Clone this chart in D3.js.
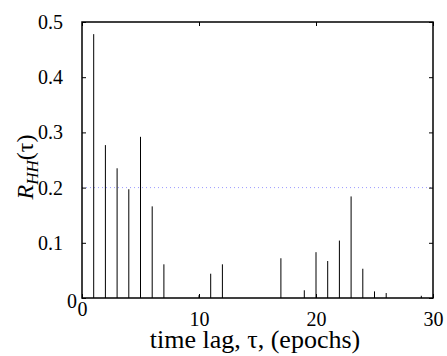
<!DOCTYPE html>
<html>
<head>
<meta charset="utf-8">
<script src="https://cdn.jsdelivr.net/npm/d3@7"></script>
<style>
	body { margin: 0; background: #fff; }
	svg text { font-family: "Liberation Serif", "DejaVu Serif", serif; fill: #000; }
</style>
</head>
<body>
<div id="chart"></div>
<script>
// lags (epochs) and autocorrelation values
var lags = [1, 2, 3, 4, 5, 6, 7, 8, 9, 10, 11, 12, 13, 14, 15, 16, 17, 18, 19, 20, 21, 22, 23, 24, 25, 26, 27, 28, 29];
var rhh = [0.478, 0.277, 0.235, 0.197, 0.292, 0.166, 0.061, 0, 0, 0.005, 0.044, 0.061, 0, 0, 0, 0, 0.072, 0, 0.014, 0.083, 0.067, 0.104, 0.184, 0.053, 0.012, 0.009, 0, 0, 0.004];
var xTicks = [0, 10, 20, 30];
var yTicks = [0, 0.1, 0.2, 0.3, 0.4, 0.5];
var threshold = 0.2;

var margin = {left: 82, top: 22, right: 14, bottom: 58},
	W = 447, H = 356,
	width = W - margin.left - margin.right,
	height = H - margin.top - margin.bottom;

var x = d3.scaleLinear().domain([0, 30]).range([0, width]);
var y = d3.scaleLinear().domain([0, 0.5]).range([height, 0]);

var svg = d3.select("#chart").append("svg")
	.attr("width", W)
	.attr("height", H);

var g = svg.append("g")
	.attr("transform", "translate(" + margin.left + "," + margin.top + ")");

// threshold line
g.append("line")
	.attr("x1", 0).attr("x2", width)
	.attr("y1", y(threshold)).attr("y2", y(threshold))
	.attr("stroke", "#9a9aff")
	.attr("stroke-width", 1)
	.attr("stroke-dasharray", "1,3");

// bars (impulses)
g.selectAll("line.bar")
	.data(lags.map(function(d, i) { return {lag: d, value: rhh[i]}; }))
	.enter()
	.append("line")
	.attr("class", "bar")
	.attr("x1", function(d) { return x(d.lag); })
	.attr("x2", function(d) { return x(d.lag); })
	.attr("y1", y(0))
	.attr("y2", function(d) { return y(d.value); })
	.attr("stroke", "#000")
	.attr("stroke-width", 1);

// axes with inward ticks
var fmtY = function(d) { return d === 0 ? "0" : d3.format(".1f")(d); };

var yAxis = g.append("g")
	.call(d3.axisLeft(y).tickValues(yTicks).tickSize(-4).tickPadding(19).tickFormat(fmtY));
var yAxis2 = g.append("g")
	.attr("transform", "translate(" + width + ",0)")
	.call(d3.axisRight(y).tickValues(yTicks).tickSize(-4).tickFormat(""));
var xAxis = g.append("g")
	.attr("transform", "translate(0," + height + ")")
	.call(d3.axisBottom(x).tickValues(xTicks).tickSize(-4).tickPadding(14).tickFormat(d3.format("d")));
var xAxis2 = g.append("g")
	.call(d3.axisTop(x).tickValues(xTicks).tickSize(-4).tickFormat(""));

[xAxis, xAxis2, yAxis, yAxis2].forEach(function(a) {
	a.attr("font-family", null);
	a.select(".domain").remove();
	a.selectAll("line").attr("stroke", "#000").attr("stroke-width", 1);
	a.selectAll("text").attr("font-size", 20).attr("fill", "#000");
});

// nudge the two zero labels like the original
yAxis.selectAll(".tick text").filter(function(d) { return d === 0; })
	.attr("dx", 14).attr("dy", "0.45em");
xAxis.selectAll(".tick text").filter(function(d) { return d === 0; })
	.attr("dy", "0.21em");

// frame
g.append("rect")
	.attr("width", width)
	.attr("height", height)
	.attr("fill", "none")
	.attr("stroke", "#000")
	.attr("stroke-width", 1.5);

// axis titles
svg.append("text")
	.attr("x", 255)
	.attr("y", 348)
	.attr("text-anchor", "middle")
	.attr("font-size", 26)
	.text("time lag, \u03c4, (epochs)");

var ylab = svg.append("text")
	.attr("transform", "translate(33," + 167 + ")rotate(-90)")
	.attr("text-anchor", "middle")
	.attr("font-size", 24);
ylab.append("tspan").attr("font-style", "italic").text("R");
ylab.append("tspan").attr("font-style", "italic").attr("font-size", 17).attr("dy", 5).text("HH");
ylab.append("tspan").attr("dy", -5).text("(\u03c4)");
</script>
</body>
</html>
